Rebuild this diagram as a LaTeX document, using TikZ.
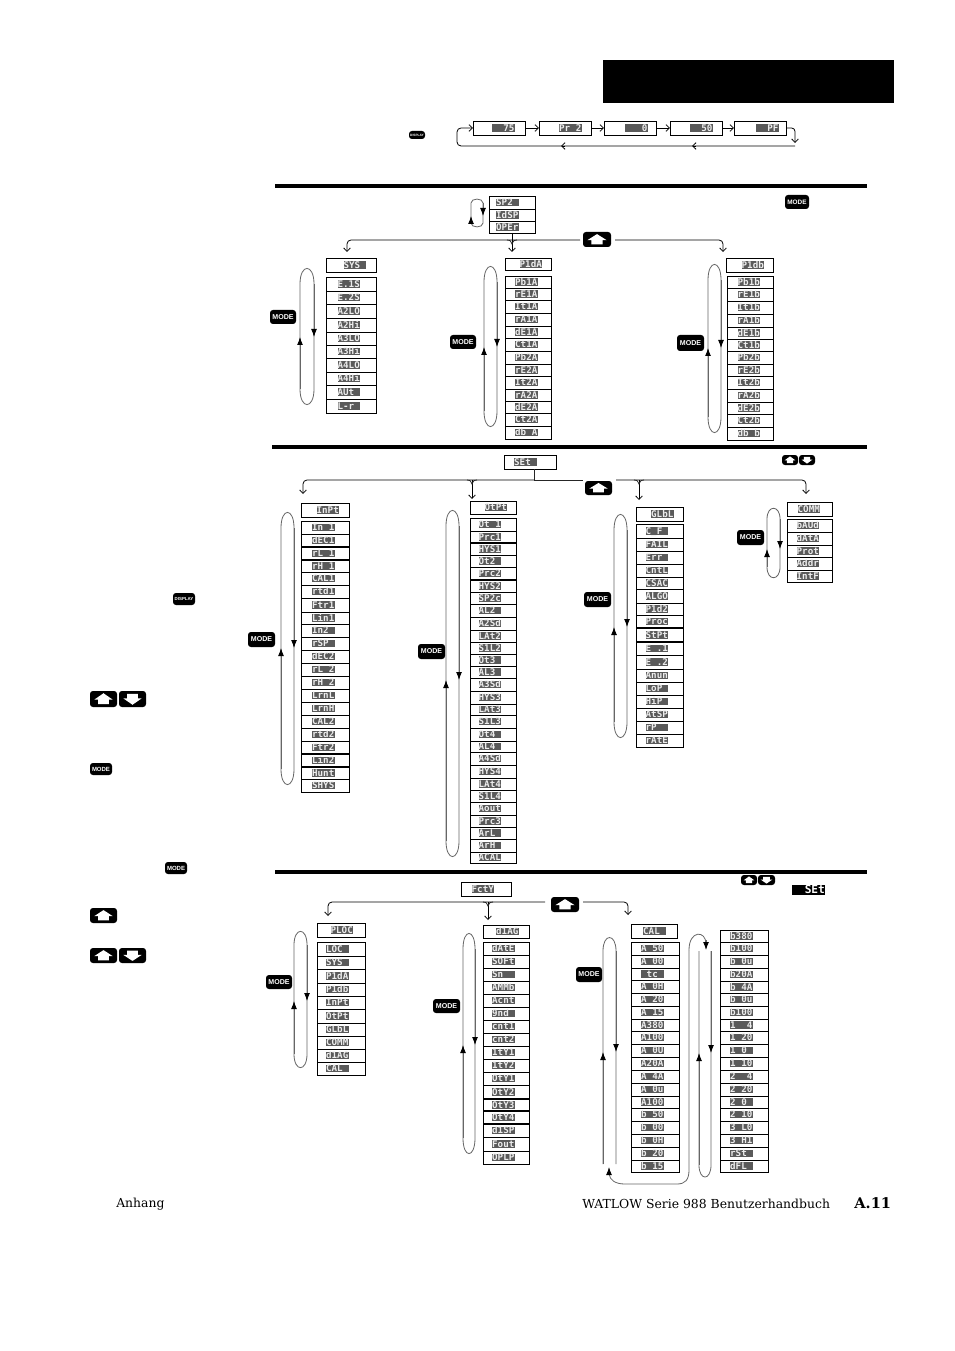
\documentclass[tikz,border=0pt]{standalone}
\usepackage{fontspec}
\usetikzlibrary{arrows.meta}
\newfontfamily\lcdfont{DejaVu Sans Mono}
\newfontfamily\btnfont{Liberation Sans}
\newfontfamily\pagefont{DejaVu Serif}
\definecolor{lcdbg}{HTML}{5A5A5A}
\definecolor{lcdfg}{HTML}{EDEDED}
\tikzset{
  cellbox/.style={draw=black,line width=.62pt,fill=white,inner sep=0pt,outer sep=0pt},
  lcdtext/.style={fill=lcdbg,text=lcdfg,inner sep=0pt,outer sep=0pt,text height=5.2pt,text depth=.6pt,
     font=\lcdfont\bfseries\fontsize{6.9}{7}\selectfont},
  btnbox/.style={fill=black,text=white,rounded corners=2.2pt,inner sep=0pt,outer sep=0pt},
  arr/.style={draw=black,line width=.6pt,-{Straight Barb[length=2.6pt,width=5pt]}},
  plainline/.style={draw=black!85,line width=.6pt},
  looppath/.style={draw=black!60,line width=.6pt},
  looptip/.style={draw=black!60,line width=.6pt,-{Latex[length=6pt,width=4.4pt,black]}},
  heavyrule/.style={draw=black,line width=2.3pt},
  pagetext/.style={anchor=base west,inner sep=0pt,font=\pagefont\fontsize{9.3}{10}\selectfont}
}
% prefix, x1, x2, lcd centre x, y0, list ybottom/label
\newcommand{\lcdcol}[6]{%
  \foreach \yb/\tx [remember=\yb as \ya (initially #5), count=\ii] in {#6}{%
    \pgfmathsetmacro{\ym}{(\ya+\yb)/2}%
    \pgfmathsetmacro{\hh}{(\yb-\ya)*.75}%
    \node[cellbox,minimum width={(#3-#2)*.75pt},minimum height=\hh pt] (#1\ii) at ({(#2+#3)/2},\ym) {};
    \node[lcdtext] (#1\ii t) at (#4,\ym) {\makebox[17pt][l]{\tx}};
  }%
}
\newcommand{\thickdiv}[2]{\foreach \k in {#2}{\draw[line width=1.5pt] (#1\k.south west) -- (#1\k.south east);}}
% name x1 y1 x2 y2 text size
\newcommand{\btn}[7]{\node[btnbox,minimum width={(#4-#2)*.75pt},minimum height={(#5-#3)*.75pt},
  font=\btnfont\bfseries\fontsize{#7}{#7}\selectfont] (#1) at ({(#2+#4)/2},{(#3+#5)/2}) {#6};}
% name x1 y1 x2 y2 dir (-1 up, 1 down)
\newcommand{\arrbtn}[6]{\node[btnbox,minimum width={(#4-#2)*.75pt},minimum height={(#5-#3)*.75pt}] (#1) at ({(#2+#4)/2},{(#3+#5)/2}) {};
  \pgfmathsetmacro{\bw}{(#4-#2)*.75}\pgfmathsetmacro{\bh}{#6*(#5-#3)*.75}%
  \begin{scope}[shift={(#1.center)},x=\bw pt,y=\bh pt]
    \fill[white] (0,-.36) -- (.34,.04) -- (.2,.04) -- (.2,.32) -- (-.2,.32) -- (-.2,.04) -- (-.34,.04) -- cycle;
  \end{scope}}
% name xl xr top bottom arrowy cap
\newcommand{\loopp}[7]{%
  \coordinate (#1a) at (#2,#6); \coordinate (#1b) at (#3,#6);
  \draw[looppath] (#2,{#4+#7}) .. controls (#2,{#4-#7*.3}) and (#3,{#4-#7*.3}) .. (#3,{#4+#7})
     -- (#3,{#5-#7}) .. controls (#3,{#5+#7*.3}) and (#2,{#5+#7*.3}) .. (#2,{#5-#7}) -- cycle;
  \draw[looptip] (#2,{#5-#7}) -- (#1a);
  \draw[looptip] (#3,{#4+#7}) -- (#1b);
}
\newcommand{\fork}[2]{\draw[plainline] ({#1-5},#2) .. controls ({#1-2},#2) .. (#1,{#2+4}) .. controls ({#1+2},#2) .. ({#1+5},#2);}
\begin{document}
\begin{tikzpicture}[x=.75pt,y=-.75pt]
\useasboundingbox (0,0) rectangle (954,1351);
\fill[white] (0,0) rectangle (954,1351);
\fill[black] (603,60) rectangle (894,103);

% ---- top display row
\btn{bd}{409}{131}{425}{139}{DISPLAY}{2.4}
\lcdcol{ta}{473}{525}{503.5}{121}{135/~~75}
\lcdcol{tb}{539}{591}{570.5}{121}{135/Pr~2}
\lcdcol{tc}{604}{656}{636.5}{121}{135/~~~0}
\lcdcol{td}{670}{722}{701.5}{121}{135/~~50}
\lcdcol{te}{734}{786}{767.5}{121}{135/~~PF}
\draw[arr] (ta1) -- (tb1);
\draw[arr] (tb1) -- (tc1);
\draw[arr] (tc1) -- (td1);
\draw[arr] (td1) -- (te1);
\coordinate (rr) at (795,143);
\coordinate (rb) at (795,146);
\coordinate (lb) at (457,146);
\coordinate (m1) at (696,146); \coordinate (m1e) at (692,146);
\coordinate (m2) at (565,146); \coordinate (m2e) at (561,146);
\draw[arr,rounded corners=2.5pt] (te1.east) -| (rr);
\draw[arr,rounded corners=3pt] (rb) -- (lb) |- (ta1.west);
\draw[arr] (m1) -- (m1e);
\draw[arr] (m2) -- (m2e);

\draw[heavyrule] (275,186) -- (867,186);

% ---- SP stack
\lcdcol{sp}{489}{535}{507.5}{196}{209/SP2~,221/IdSP,233/OPEr}
\loopp{lsp}{471}{483}{199}{227}{216}{4}
\btn{bm0}{785}{195}{809}{209}{MODE}{4.8}
\arrbtn{ba}{583}{232}{611}{247}{-1}
\coordinate (tl1) at (347,252);
\coordinate (tm1) at (512,252);
\coordinate (tr1) at (723,252);
\coordinate (ja) at (580,240);
\coordinate (jb) at (615,240);
\draw[arr,rounded corners=3pt] (ja) -| (tl1);
\draw[arr,rounded corners=3pt] (jb) -| (tr1);
\draw[arr] (sp3.south) -- (tm1);
\fork{512}{240}

% ---- SYS
\lcdcol{sys}{326}{376}{355}{258}{272/SYS~}
\lcdcol{sa}{326}{376}{349}{277}{291/E.1S,304/E.2S,318/A2LO,332/A2Hi,345/A3LO,358/A3Hi,372/A4LO,385/A4Hi,399/AUt~,413/L-r~}
\loopp{lsys}{300}{314}{268}{405}{337}{16}
\btn{bm1}{270}{310}{296}{324}{MODE}{5.3}

% ---- Pid A
\lcdcol{pa}{505}{551}{531}{258}{270/P1dA}
\lcdcol{pb}{505}{551}{526.5}{276}{288/Pb1A,300/rE1A,313/It1A,326/rA1A,338/dE1A,351/Ct1A,364/Pb2A,376/rE2A,389/It2A,401/rA2A,413/dE2A,426/Ct2A,439/db~A}
\loopp{lpa}{484}{497}{266}{427}{347}{16}
\btn{bm2}{450}{335}{476}{349}{MODE}{5.3}

% ---- Pid B
\lcdcol{qa}{726}{773}{753}{258}{272/P1db}
\lcdcol{qb}{727}{773}{749}{276}{288/Pb1b,301/rE1b,314/It1b,327/rA1b,339/dE1b,351/Ct1b,364/Pb2b,376/rE2b,389/It2b,402/rA2b,414/dE2b,427/Ct2b,440/db~b}
\loopp{lqa}{708}{721}{264}{433}{348}{16}
\btn{bm3}{677}{335}{704}{351}{MODE}{5.3}

\draw[heavyrule] (272,447) -- (867,447);

% ---- Set
\lcdcol{set}{504}{556}{525.5}{455}{469/SEt~}
\arrbtn{bb}{585}{481}{612}{495}{-1}
\arrbtn{bu1}{782}{455}{798}{465}{-1}
\arrbtn{bd1}{799}{455}{815}{465}{1}
\coordinate (j2) at (534,480);
\coordinate (j2a) at (583,480);
\coordinate (j2b) at (616,480);
\coordinate (tip1) at (303,494);
\coordinate (tip2) at (472,499);
\coordinate (tip3) at (639,500);
\coordinate (tip4) at (806,494);
\coordinate (f2) at (472,480);
\coordinate (f3) at (639,480);
\draw[plainline] (set1.south -| j2) -- (j2);
\draw[plainline] (j2) -- (j2a);
\draw[arr,rounded corners=3pt] (j2) -| (tip1);
\draw[arr,rounded corners=3pt] (j2b) -| (tip4);
\draw[arr] (f2) -- (tip2);
\draw[arr] (f3) -- (tip3);
\fork{472}{480}
\fork{639}{480}

% ---- InPt
\lcdcol{ih}{301}{349}{328}{503}{517/InPt}
\lcdcol{in}{301}{349}{323.5}{521}{534/In~1,547/dEC1,560/rL~1,572/rH~1,585/CAL1,598/rtd1,612/Ftr1,624/Lin1,637/In2~,650/rSP~,663/dEC2,676/rL~2,689/rH~2,702/LrnL,715/LrnH,728/CAL2,741/rtd2,754/Ftr2,767/Lin2,779/Hunt,792/SHYS}
\thickdiv{in}{2,3,18,19}
\loopp{lin}{281}{294}{512}{785}{648}{16}
\btn{bm4}{248}{632}{275}{647}{MODE}{5.3}

% ---- OtPt
\lcdcol{oh}{470}{516}{496}{501}{514/OtPt}
\lcdcol{ot}{470}{516}{490}{518}{531/Ot~1,543/Prc1,555/HYS1,567/Ot2~,580/Prc2,592/HYS2,604/SP2c,617/AL2~,630/A2Sd,642/LAt2,654/S1L2,666/Ot3~,678/AL3~,691/A3Sd,704/HYS3,715/LAt3,728/S1L3,741/Ot4~,752/AL4~,765/A4Sd,778/HYS4,790/LAt4,802/S1L4,815/Aout,827/Prc3,839/ArL~,852/ArH~,863/ACAL}
\thickdiv{ot}{2,5}
\loopp{lot}{446}{459}{510}{857}{680}{16}
\btn{bm5}{418}{644}{445}{659}{MODE}{5.3}

% ---- GLbL
\lcdcol{gh}{636}{683}{662.5}{507}{521/GLbL}
\lcdcol{gl}{636}{683}{657}{524}{538/C\_F~,551/FAIL,564/Err~,577/CntL,589/CSAC,603/ALGO,615/P1d2,628/Proc,642/StPt,655/E~.1,669/E~.2,682/Anun,695/LoP~,708/HiP~,721/AtSP,734/rP~~,747/rAtE}
\thickdiv{gl}{8,9}
\loopp{lgl}{614}{627}{514}{738}{627}{16}
\btn{bm6}{584}{592}{611}{607}{MODE}{5.3}

% ---- COMM
\lcdcol{ch}{787}{832}{809}{502}{516/COMM}
\lcdcol{cm}{787}{832}{808}{519}{532/bAUd,545/dAtA,557/Prot,570/Addr,582/IntF}
\loopp{lcm}{767}{780}{508}{578}{549}{11}
\btn{bm7}{737}{530}{764}{545}{MODE}{5.3}

\draw[heavyrule] (275,872) -- (867,872);

% ---- Factory
\lcdcol{fc}{461}{511}{483}{882}{896/FctY}
\arrbtn{bc}{551}{897}{579}{912}{-1}
\arrbtn{bu2}{741}{875}{757}{885}{-1}
\arrbtn{bd2}{758}{875}{775}{885}{1}
\node[fill=black,text=white,inner sep=0pt,text height=6pt,text depth=1pt,font=\lcdfont\bfseries\fontsize{8.4}{8}\selectfont] (setb) at (808.5,890) {\makebox[24.7pt][r]{SEt}};
\coordinate (j3a) at (545,902);
\coordinate (j3b) at (583,902);
\coordinate (tip5) at (328,916);
\coordinate (f5) at (488,902);
\coordinate (tip6) at (488,920);
\coordinate (tip7) at (628,915);
\draw[arr,rounded corners=3pt] (j3a) -| (tip5);
\draw[arr] (f5) -- (tip6);
\draw[arr,rounded corners=3pt] (j3b) -| (tip7);
\fork{488}{902}

% ---- PLOC
\lcdcol{ph}{317}{365}{342}{923}{937/PLOC}
\lcdcol{pl}{317}{365}{337.5}{942}{956/LOC~,969/SYS~,983/P1dA,996/P1db,1009/InPt,1023/OtPt,1036/GLbL,1049/COMM,1062/d1AG,1075/CAL~}
\loopp{lpl}{294}{307}{931}{1068}{1001}{14}
\btn{bm8}{266}{975}{292}{989}{MODE}{5.3}

% ---- dIAG
\lcdcol{dh}{483}{529}{507.5}{925}{938/d1AG}
\lcdcol{dg}{483}{529}{503.5}{942}{955/dAtE,968/SOFt,981/Sn~~,994/AMMb,1007/Acnt,1020/9nd~,1033/cnt1,1046/cnt2,1059/1tY1,1072/1tY2,1085/OtY1,1099/OtY2,1111/OtY3,1124/OtY4,1137/d1SP,1151/Fout,1164/OPLP}
\thickdiv{dg}{12,13,14}
\loopp{ldg}{463}{475}{933}{1154}{1045}{16}
\btn{bm9}{433}{999}{460}{1013}{MODE}{5.3}

% ---- CAL
\lcdcol{ah}{631}{677}{654.5}{924}{938/CAL~}
\lcdcol{ca}{631}{679}{652.5}{942}{955/A~50,968/A~00,980/~tc~,993/A~0H,1006/A~20,1019/A~15,1031/A380,1044/A100,1057/A~0U,1070/A20A,1083/A~4A,1096/A~0u,1108/A100,1121/b~50,1134/b~00,1147/b~0H,1160/b~20,1172/b~15}
\lcdcol{cb}{720}{768}{741.5}{930}{942/b380,955/b100,968/b~0u,981/b20A,993/b~4A,1006/b~0u,1019/b100,1031/1~~4,1044/1~20,1057/1~0~,1070/1~10,1083/2~~4,1096/2~20,1108/2~0~,1121/2~10,1134/3~L0,1147/3~H1,1160/rSt~,1172/dFL~}
\btn{bm10}{576}{967}{602}{982}{MODE}{5.3}
% left open loop
\coordinate (c1a) at (603,1052); \coordinate (c1b) at (616,1052);
\draw[looppath] (603,1164) -- (603,951) .. controls (603,933) and (616,933) .. (616,951) -- (616,1164);
\draw[looptip] (603,1164) -- (c1a);
\draw[looptip] (616,951) -- (c1b);
% outer return
\coordinate (o1) at (706,950);
\coordinate (o2) at (609,1167);
\draw[looppath] (689,950) .. controls (689,930) and (706,930) .. (706,944);
\draw[looppath] (689,950) -- (689,1170) .. controls (689,1180) and (685,1184) .. (677,1184) -- (625,1184) .. controls (615,1184) and (610,1180) .. (609,1174);
\draw[looptip] (706,940) -- (o1);
\draw[looptip] (609,1176) -- (o2);
% inner right loop
\coordinate (c2a) at (699,1053); \coordinate (c2b) at (711,1053);
\draw[looppath] (699,951) -- (699,1165) .. controls (699,1181) and (711,1181) .. (711,1165) -- (711,951);
\draw[looptip] (699,1165) -- (c2a);
\draw[looptip] (711,951) -- (c2b);

% ---- left column keys
\btn{bl1}{173}{593}{195}{605}{DISPLAY}{3.3}
\arrbtn{bl2}{90}{691}{117}{707}{-1}
\arrbtn{bl3}{119}{691}{146}{707}{1}
\btn{bl4}{90}{763}{112}{775}{MODE}{4.5}
\btn{bl5}{165}{862}{187}{874}{MODE}{4.5}
\arrbtn{bl6}{90}{908}{117}{923}{-1}
\arrbtn{bl7}{90}{948}{117}{963}{-1}
\arrbtn{bl8}{119}{948}{146}{963}{1}

% ---- footer
\node[pagetext] (fa) at (116,1207) {Anhang};
\node[pagetext] (fb) at (582,1208) {WATLOW Serie 988 Benutzerhandbuch};
\node[pagetext,font=\pagefont\bfseries\fontsize{11}{12}\selectfont] (fc0) at (854,1208) {A.11};
\end{tikzpicture}
\end{document}
